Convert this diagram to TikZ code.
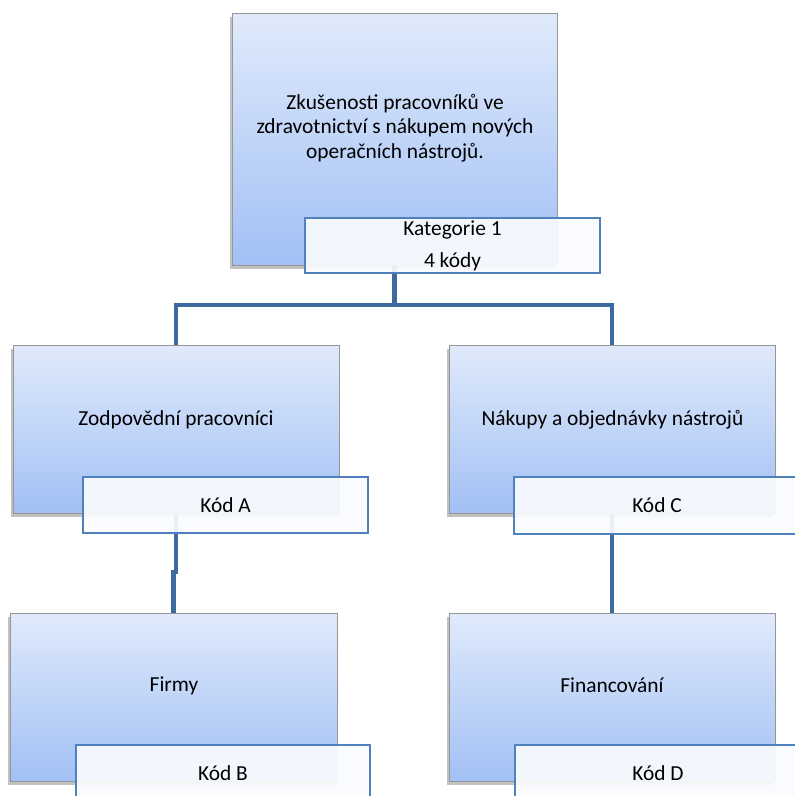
\documentclass[tikz,border=0pt]{standalone}
\usepackage{fontspec}
\setmainfont{Carlito}
\usetikzlibrary{shadows}
\definecolor{conn}{RGB}{62,106,160}
\definecolor{gtop}{RGB}{224,234,251}
\definecolor{gbot}{RGB}{162,192,245}
\definecolor{boxgray}{RGB}{150,150,150}
\definecolor{lblblue}{RGB}{79,129,189}
\definecolor{lblfill}{RGB}{249,251,254}
\begin{document}
\begin{tikzpicture}[x=1pt,y=-1pt,
  box/.style={draw=boxgray, line width=0.8pt, top color=gtop, bottom color=gbot,
    drop shadow={shadow xshift=-2pt, shadow yshift=-4pt, opacity=0.3, fill=black!80},
    inner sep=0pt, outer sep=0pt},
  lbl/.style={draw=lblblue, line width=1.4pt, fill=lblfill, fill opacity=0.92,
    text opacity=1, inner sep=0pt, outer sep=0pt, align=center,
    font=\fontsize{21.4}{32}\selectfont},
  txt/.style={inner sep=0pt, align=center, font=\fontsize{21.4}{24.5}\selectfont,
    text height=14.5pt, text depth=4.5pt},
  link/.style={draw=conn, line width=4.5pt}]
\clip (0,0) rectangle (795,796);
% main boxes
\node[box, minimum width=325pt, minimum height=252pt] (top) at (394.5,139) {};
\node[box, minimum width=326pt, minimum height=168pt] (midL) at (176,429) {};
\node[box, minimum width=326pt, minimum height=168pt] (midR) at (612,429) {};
\node[box, minimum width=327pt, minimum height=168pt] (botL) at (173.5,697) {};
\node[box, minimum width=326pt, minimum height=168pt] (botR) at (612,697) {};
% connectors
\coordinate (busL) at (176,305);
\coordinate (busR) at (612,305);
\draw[link] (top.south) -- (top.south |- busL);
\draw[link, line join=miter] (midL.north) -- (busL) -- (busR) -- (midR.north);
\draw[link] (midL.south) -- ++(0,59) -| (botL.north);
\draw[link] (midR.south) -- (botR.north);
% label boxes
\node[lbl, minimum width=295pt, minimum height=55pt] (lblK) at (452.5,245.5) {Kategorie 1\\4 kódy};
\node[lbl, minimum width=285pt, minimum height=56pt] (lblA) at (225.5,505) {Kód A};
\node[lbl, minimum width=286pt, minimum height=57pt] (lblC) at (657,505.5) {Kód C};
\node[lbl, minimum width=294pt, minimum height=56pt] (lblB) at (223,773) {Kód B};
\node[lbl, minimum width=286pt, minimum height=56pt] (lblD) at (658,773) {Kód D};
% texts
\node[txt, text height=, text depth=] (tTop) at (395,128) {Zkušenosti pracovníků ve\\zdravotnictví s nákupem nových\\operačních nástrojů.};
\node[txt] (tA) at (176,420) {Zodpovědní pracovníci};
\node[txt] (tC) at (612.5,420) {Nákupy a objednávky nástrojů};
\node[txt] (tB) at (174,686) {Firmy};
\node[txt] (tD) at (612,687) {Financování};
\end{tikzpicture}
\end{document}
